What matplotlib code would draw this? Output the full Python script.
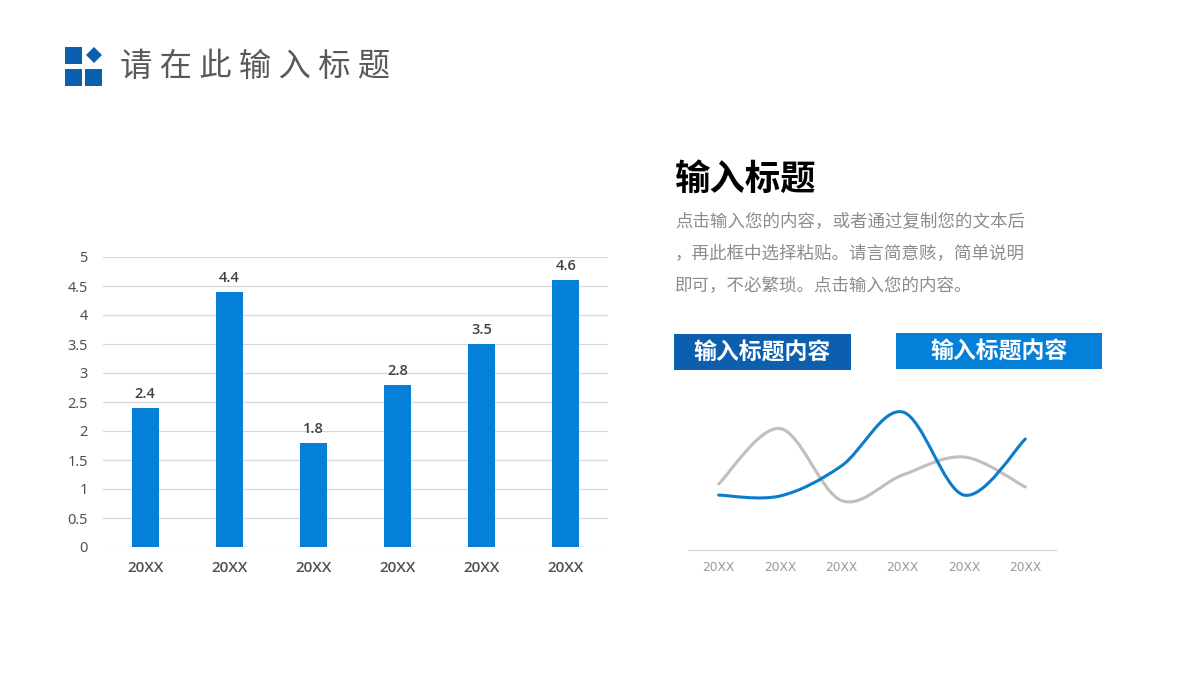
import matplotlib
matplotlib.use("Agg")
import matplotlib.pyplot as plt
from matplotlib.patches import Rectangle, Polygon, PathPatch
from matplotlib.path import Path

plt.rcParams['font.family'] = ['Noto Sans CJK SC', 'DejaVu Sans']

W, H = 1200, 680
BLUE = "#0580D8"
DARK_BLUE = "#0B5FAE"
GRAY_LINE = "#BFBFBF"

# bar chart data
bar_years = ["20XX", "20XX", "20XX", "20XX", "20XX", "20XX"]
bar_values = [2.4, 4.4, 1.8, 2.8, 3.5, 4.6]
bar_ticks = [0, 0.5, 1, 1.5, 2, 2.5, 3, 3.5, 4, 4.5, 5]
bar_tick_labels = ["0", "0.5", "1", "1.5", "2", "2.5", "3", "3.5", "4", "4.5", "5"]

# line chart data
line_years = ["20XX", "20XX", "20XX", "20XX", "20XX", "20XX"]
blue_values = [1.83, 1.80, 2.80, 4.60, 1.83, 3.70]
gray_values = [2.20, 4.05, 1.65, 2.50, 3.10, 2.10]

title_text = "请 在 此 输 入 标 题"
heading_text = "输入标题"
body_lines = [
    "点击输入您的内容，或者通过复制您的文本后",
    "，再此框中选择粘贴。请言简意赅，简单说明",
    "即可，不必繁琐。点击输入您的内容。",
]
box_text = "输入标题内容"


# axes placed by pixel box, top-left origin
def axes_px(fig, left, top, right, bottom):
    return fig.add_axes([left / W, 1 - bottom / H, (right - left) / W, (bottom - top) / H])


# smoothed line through the points, like the office chart smooth option
def smooth_path(xs, ys):
    verts = [(xs[0], ys[0])]
    codes = [Path.MOVETO]
    n = len(xs)
    for i in range(n - 1):
        x0, y0 = (xs[i - 1], ys[i - 1]) if i > 0 else (xs[i], ys[i])
        x3, y3 = (xs[i + 2], ys[i + 2]) if i + 2 < n else (xs[i + 1], ys[i + 1])
        c1 = (xs[i] + (xs[i + 1] - x0) / 6, ys[i] + (ys[i + 1] - y0) / 6)
        c2 = (xs[i + 1] - (x3 - xs[i]) / 6, ys[i + 1] - (y3 - ys[i]) / 6)
        verts += [c1, c2, (xs[i + 1], ys[i + 1])]
        codes += [Path.CURVE4, Path.CURVE4, Path.CURVE4]
    return Path(verts, codes)


fig = plt.figure(figsize=(12, 6.8), dpi=100, facecolor="white")

# overlay for the slide furniture, in pixels
page = fig.add_axes([0, 0, 1, 1])
page.set_xlim(0, W)
page.set_ylim(H, 0)
page.axis("off")

page.add_patch(Rectangle((65, 47), 16.5, 16.5, color=DARK_BLUE, lw=0))
page.add_patch(Rectangle((65, 69), 16.5, 16.5, color=DARK_BLUE, lw=0))
page.add_patch(Rectangle((85, 69), 16.5, 16.5, color=DARK_BLUE, lw=0))
page.add_patch(Polygon([(94, 47), (102, 55), (94, 63), (86, 55)], color=DARK_BLUE, lw=0))

page.text(120, 67, title_text, fontsize=23.3, color="#595959", va="center", ha="left")
page.text(675, 179, heading_text, fontsize=25.5, color="black", va="center", ha="left", fontweight="bold")
for text_y, line in zip([222, 254, 285], body_lines):
    page.text(675, text_y, line, fontsize=12.6, color="#8C8C8C", va="center", ha="left")

page.add_patch(Rectangle((673.5, 334), 177.5, 36, color=DARK_BLUE, lw=0))
page.add_patch(Rectangle((896, 333), 206, 36, color=BLUE, lw=0))
page.text(762, 353, box_text, fontsize=16.5, color="white", va="center", ha="center", fontweight="bold")
page.text(999, 352, box_text, fontsize=16.5, color="white", va="center", ha="center", fontweight="bold")

# bar chart
ax = axes_px(fig, 103, 257, 608, 547)
ax.patch.set_alpha(0)
positions = list(range(len(bar_values)))
bars = ax.bar(positions, bar_values, width=0.32, color=BLUE, zorder=3)
ax.set_xlim(-0.5, 5.5)
ax.set_ylim(0, 5)
ax.set_yticks(bar_ticks)
ax.set_yticklabels(bar_tick_labels, fontsize=10.5, color="#505050", family="Noto Sans")
ax.set_xticks(positions)
ax.set_xticklabels(bar_years, fontsize=11, color="#505050", family="Open Sans", fontweight="semibold")
ax.tick_params(axis="both", length=0)
ax.tick_params(axis="y", pad=11)
ax.tick_params(axis="x", pad=10)
ax.grid(axis="y", color="#D9D9D9", lw=0.9, zorder=0)
ax.set_axisbelow(True)
for side in ["top", "right", "left", "bottom"]:
    ax.spines[side].set_visible(False)
for b, val in zip(bars, bar_values):
    ax.annotate(str(val), (b.get_x() + b.get_width() / 2, val), xytext=(0, 5), textcoords="offset points",
                ha="center", va="bottom", fontsize=10.5, color="#404040", family="Open Sans",
                fontweight="semibold", annotation_clip=False)

# line chart
ax2 = axes_px(fig, 688, 400, 1056, 550)
ax2.patch.set_alpha(0)
line_x = list(range(len(line_years)))
ax2.add_patch(PathPatch(smooth_path(line_x, gray_values), fill=False, edgecolor=GRAY_LINE, lw=2.2, capstyle="round"))
ax2.add_patch(PathPatch(smooth_path(line_x, blue_values), fill=False, edgecolor="#0A7CCB", lw=2.2, capstyle="round"))
ax2.set_xlim(-0.5, 5.5)
ax2.set_ylim(0, 5)
ax2.set_yticks([])
ax2.set_xticks(line_x)
ax2.set_xticklabels(line_years, fontsize=8.8, color="#999999", family="DejaVu Sans")
ax2.tick_params(axis="x", length=0, pad=8)
for side in ["top", "right", "left"]:
    ax2.spines[side].set_visible(False)
ax2.spines["bottom"].set_color("#D9D9D9")
ax2.spines["bottom"].set_linewidth(1.0)

fig.savefig("out.png", dpi=100)
